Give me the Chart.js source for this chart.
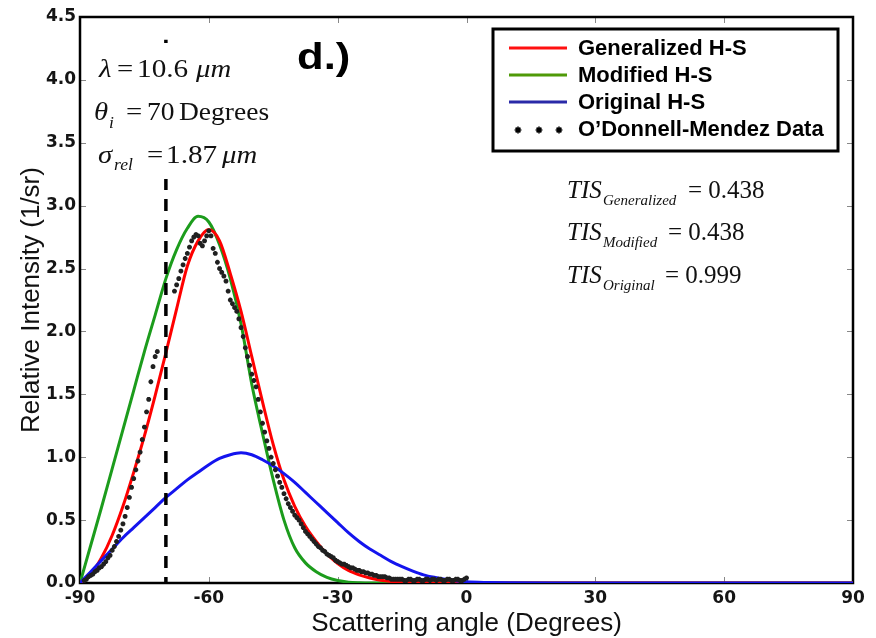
<!DOCTYPE html>
<html>
<head>
<meta charset="utf-8">
<script src="https://cdn.jsdelivr.net/npm/chart.js@4.4.1/dist/chart.umd.min.js"></script>
<style>
  html, body { margin: 0; padding: 0; background: #fff; }
</style>
</head>
<body>
<canvas id="chart" width="876" height="638"></canvas>
<script>
'use strict';

var curveAngle = [-90, -87.5, -85, -82.5, -80, -77.5, -75, -72.5, -70, -67.5, -65, -62.5, -60, -57.5,
  -55, -52.5, -50, -47.5, -45, -42.5, -40, -37.5, -35, -32.5, -30, -27.5, -25, -22.5, -20, -17.5,
  -15, -12.5, -10, -7.5, -5, -2.5, 0, 5, 10, 20, 30, 40, 50, 60, 70, 80, 90];

var generalizedHS = [0, 0.07, 0.20, 0.38, 0.61, 0.88, 1.17, 1.49, 1.83, 2.18, 2.52, 2.72, 2.81, 2.72,
  2.46, 2.16, 1.80, 1.44, 1.10, 0.82, 0.61, 0.45, 0.33, 0.23, 0.155, 0.10, 0.065, 0.04, 0.022, 0.012,
  0.006, 0.003, 0.001, 0, 0, 0, 0, 0, 0, 0, 0, 0, 0, 0, 0, 0, 0];

var modifiedHS = [0, 0.30, 0.60, 0.91, 1.22, 1.53, 1.84, 2.13, 2.42, 2.65, 2.82, 2.915, 2.87, 2.69,
  2.42, 2.06, 1.58, 1.19, 0.82, 0.50, 0.28, 0.16, 0.09, 0.045, 0.02, 0.007, 0.002, 0, 0, 0,
  0, 0, 0, 0, 0, 0, 0, 0, 0, 0, 0, 0, 0, 0, 0, 0, 0];

var originalHS = [0, 0.09, 0.18, 0.27, 0.36, 0.44, 0.52, 0.60, 0.68, 0.75, 0.82, 0.88, 0.94, 0.99,
  1.02, 1.035, 1.02, 0.98, 0.93, 0.87, 0.80, 0.72, 0.64, 0.56, 0.48, 0.40, 0.33, 0.27, 0.22, 0.17,
  0.13, 0.095, 0.065, 0.045, 0.03, 0.018, 0.01, 0.004, 0.001, 0, 0, 0, 0, 0, 0, 0, 0];

// O'Donnell-Mendez measured data
var odAngle = [-89, -88.5, -88, -87.5, -87, -86.5, -86, -85.5, -85, -84.5, -84, -83.5, -83, -82.5,
  -82, -81.5, -81, -80.5, -80, -79.5, -79, -78.5, -78, -77.5, -77, -76.5, -76, -75.5, -75, -74.5,
  -74, -73.5, -73, -72.5, -72, -68, -67.5, -67, -66.5, -66, -65.5, -65, -64.5, -64, -63.5, -63,
  -62.5, -62, -61.5, -61, -60.5, -60, -59.5, -59, -58.5, -58, -57.5, -57, -56.5, -56, -55.5, -55,
  -54.5, -54, -53.5, -53, -52.5, -52, -51.5, -51, -50.5, -50, -49.5, -49, -48.5, -48, -47.5, -47,
  -46.5, -46, -45.5, -45, -44.5, -44, -43.5, -43, -42.5, -42, -41.5, -41, -40.5, -40, -39.5, -39,
  -38.5, -38, -37.5, -37, -36.5, -36, -35.5, -35, -34.5, -34, -33.5, -33, -32.5, -32, -31.5, -31,
  -30.5, -30, -29.5, -29, -28.5, -28, -27.5, -27, -26.5, -26, -25.5, -25, -24.5, -24, -23.5, -23,
  -22.5, -22, -21.5, -21, -20.5, -20, -19.5, -19, -18.5, -18, -17.5, -17, -16.5, -16, -15.5, -15,
  -14.5, -14, -13.5, -13, -12.5, -12, -11.5, -11, -10.5, -10, -9.5, -9, -8.5, -8, -7.5, -7,
  -6.5, -6, -5.5, -5, -4.5, -4, -3.5, -3, -2.5, -2, -1.5, -1, -0.5, 0];

var odIntensity = [0.02, 0.03, 0.05, 0.06, 0.07, 0.09, 0.10, 0.12, 0.13, 0.15, 0.17, 0.20, 0.22, 0.26,
  0.29, 0.33, 0.37, 0.42, 0.47, 0.53, 0.60, 0.68, 0.76, 0.83, 0.90, 0.97, 1.04, 1.14, 1.24, 1.36,
  1.46, 1.60, 1.72, 1.80, 1.84, 2.32, 2.37, 2.42, 2.48, 2.53, 2.58, 2.62, 2.67, 2.72, 2.75, 2.77,
  2.76, 2.70, 2.68, 2.72, 2.76, 2.80, 2.76, 2.66, 2.62, 2.55, 2.50, 2.47, 2.44, 2.40, 2.32, 2.25,
  2.22, 2.19, 2.16, 2.10, 2.03, 1.96, 1.87, 1.80, 1.73, 1.66, 1.61, 1.56, 1.46, 1.36, 1.27, 1.20,
  1.13, 1.07, 1.00, 0.95, 0.90, 0.85, 0.80, 0.76, 0.71, 0.67, 0.63, 0.60, 0.57, 0.54, 0.52, 0.50,
  0.47, 0.44, 0.41, 0.39, 0.37, 0.35, 0.33, 0.31, 0.29, 0.28, 0.26, 0.25, 0.23, 0.22, 0.21, 0.20,
  0.18, 0.17, 0.16, 0.15, 0.15, 0.14, 0.13, 0.12, 0.12, 0.11, 0.10, 0.10, 0.09, 0.09, 0.08, 0.08,
  0.07, 0.07, 0.06, 0.06, 0.05, 0.05, 0.05, 0.05, 0.04, 0.04, 0.03, 0.03, 0.03, 0.03, 0.03, 0.03,
  0.02, 0.02, 0.03, 0.03, 0.02, 0.02, 0.03, 0.03, 0.02, 0.02, 0.03, 0.03, 0.02, 0.03, 0.03, 0.02,
  0.03, 0.03, 0.02, 0.02, 0.03, 0.03, 0.02, 0.02, 0.03, 0.03, 0.02, 0.02, 0.03, 0.04];

// Incidence angle marker (dashed line)
var incidentAngle = -70;
var markerTop = 4.32;

var xTicks = [-90, -60, -30, 0, 30, 60, 90];
var yTicks = [0, 0.5, 1, 1.5, 2, 2.5, 3, 3.5, 4, 4.5];

var SANS = "'Liberation Sans', Arial, sans-serif";
var SERIF = "'Liberation Serif', 'Times New Roman', serif";

function points(xs, ys) {
  return xs.map(function(x, i) { return { x: x, y: ys[i] }; });
}

// Draw text runs, each at its own x, optionally stretched horizontally
function drawRuns(ctx, runs) {
  runs.forEach(function(r) {
    ctx.save();
    ctx.font = r.font;
    ctx.translate(r.x, r.y);
    ctx.scale(r.sx || 1, 1);
    ctx.fillText(r.text, 0, 0);
    ctx.restore();
  });
}

/**
 * Frame with inward ticks on all four sides.
 */
var framePlugin = {
  id: 'frame',
  beforeDraw: function(chart) {
    var ctx = chart.ctx;
    ctx.save();
    ctx.fillStyle = '#fff';
    ctx.fillRect(0, 0, chart.width, chart.height);
    ctx.restore();
  },
  beforeDatasetsDraw: function(chart) {
    var ctx = chart.ctx, a = chart.chartArea;
    var xs = chart.scales.x, ys = chart.scales.y;
    ctx.save();
    ctx.strokeStyle = '#888';
    ctx.lineWidth = 1;
    ctx.beginPath();
    xTicks.forEach(function(v) {
      var px = Math.round(xs.getPixelForValue(v)) + 0.5;
      ctx.moveTo(px, a.bottom); ctx.lineTo(px, a.bottom - 6);
      ctx.moveTo(px, a.top); ctx.lineTo(px, a.top + 6);
    });
    yTicks.forEach(function(v) {
      var py = Math.round(ys.getPixelForValue(v)) + 0.5;
      ctx.moveTo(a.left, py); ctx.lineTo(a.left + 6, py);
      ctx.moveTo(a.right, py); ctx.lineTo(a.right - 6, py);
    });
    ctx.stroke();
    ctx.strokeStyle = '#000';
    ctx.lineWidth = 2.5;
    ctx.strokeRect(a.left, a.top, a.right - a.left, a.bottom - a.top);
    ctx.restore();
  }
};

/**
 * Annotations: parameters block, panel label, TIS values and the boxed legend.
 */
var annotationPlugin = {
  id: 'annotations',
  afterDatasetsDraw: function(chart) {
    var ctx = chart.ctx;
    ctx.save();

    // white block behind parameter text (hides dashed line)
    ctx.fillStyle = '#fff';
    ctx.fillRect(92, 49, 186, 130);

    ctx.fillStyle = '#111';
    ctx.textBaseline = 'alphabetic';
    var it = 'italic 25px ' + SERIF, rm = '25px ' + SERIF, sub = 'italic 16px ' + SERIF;
    drawRuns(ctx, [
      { text: 'λ', font: it, x: 99, y: 77, sx: 1.15 },
      { text: '=', font: rm, x: 117, y: 77, sx: 1.15 },
      { text: '10.6', font: rm, x: 137, y: 77, sx: 1.17 },
      { text: 'μm', font: it, x: 196, y: 77, sx: 1.15 },

      { text: 'θ', font: it, x: 94, y: 120, sx: 1.15 },
      { text: 'i', font: sub, x: 109, y: 128, sx: 1.1 },
      { text: '=', font: rm, x: 126, y: 120, sx: 1.15 },
      { text: '70', font: rm, x: 147, y: 120, sx: 1.1 },
      { text: 'Degrees', font: rm, x: 179, y: 120, sx: 1.1 },

      { text: 'σ', font: it, x: 98, y: 163, sx: 1.15 },
      { text: 'rel', font: sub, x: 114, y: 170, sx: 1.1 },
      { text: '=', font: rm, x: 147, y: 163, sx: 1.15 },
      { text: '1.87', font: rm, x: 166, y: 163, sx: 1.17 },
      { text: 'μm', font: it, x: 222, y: 163, sx: 1.15 }
    ]);

    // panel label
    ctx.fillStyle = '#000';
    drawRuns(ctx, [{ text: 'd.)', font: 'bold 37px ' + SANS, x: 297, y: 69, sx: 1.18 }]);

    // total integrated scatter
    var tIt = 'italic 25px ' + SERIF, tRm = '25px ' + SERIF, tSub = 'italic 15px ' + SERIF;
    ctx.fillStyle = '#111';
    drawRuns(ctx, [
      { text: 'TIS', font: tIt, x: 567, y: 198 },
      { text: 'Generalized', font: tSub, x: 603, y: 205 },
      { text: '= 0.438', font: tRm, x: 688, y: 198 },
      { text: 'TIS', font: tIt, x: 567, y: 240 },
      { text: 'Modified', font: tSub, x: 603, y: 247 },
      { text: '= 0.438', font: tRm, x: 668, y: 240 },
      { text: 'TIS', font: tIt, x: 567, y: 283 },
      { text: 'Original', font: tSub, x: 603, y: 290 },
      { text: '= 0.999', font: tRm, x: 665, y: 283 }
    ]);

    // legend box
    ctx.fillStyle = '#fff';
    ctx.fillRect(493, 29, 345, 122);
    ctx.strokeStyle = '#000';
    ctx.lineWidth = 3;
    ctx.strokeRect(493, 29, 345, 122);

    var legendRows = [
      { label: 'Generalized H-S', color: '#ff1010', y: 48 },
      { label: 'Modified H-S', color: '#4f9a08', y: 75 },
      { label: 'Original H-S', color: '#2a2aa8', y: 102 },
      { label: 'O’Donnell-Mendez Data', color: null, y: 129 }
    ];
    ctx.font = 'bold 22px ' + SANS;
    ctx.textBaseline = 'middle';
    legendRows.forEach(function(row) {
      if (row.color) {
        ctx.strokeStyle = row.color;
        ctx.lineWidth = 2.8;
        ctx.beginPath();
        ctx.moveTo(509, row.y);
        ctx.lineTo(567, row.y);
        ctx.stroke();
      } else {
        [518, 539, 559].forEach(function(px) {
          ctx.strokeStyle = '#000';
          ctx.lineWidth = 1.6;
          Chart.helpers.drawPoint(ctx, { pointStyle: 'star', radius: 3.4, borderWidth: 1.6 }, px, row.y + 1);
        });
      }
      ctx.fillStyle = '#000';
      ctx.fillText(row.label, 578, row.y + 1);
    });

    ctx.restore();
  }
};

var curveLine = function(label, values, color, order) {
  return {
    label: label,
    data: points(curveAngle, values),
    showLine: true,
    borderColor: color,
    backgroundColor: color,
    borderWidth: 3,
    pointRadius: 0,
    cubicInterpolationMode: 'monotone',
    order: order
  };
};

new Chart(document.getElementById('chart').getContext('2d'), {
  type: 'scatter',
  data: {
    datasets: [
      {
        label: 'Incidence',
        data: [{ x: incidentAngle, y: 0 }, { x: incidentAngle, y: markerTop }],
        showLine: true,
        borderColor: '#000',
        borderWidth: 3.5,
        borderDash: [12, 9],
        borderDashOffset: 6,
        pointRadius: 0,
        order: 0
      },
      {
        label: 'O’Donnell-Mendez Data',
        data: points(odAngle, odIntensity),
        pointStyle: 'star',
        pointRadius: 2.4,
        borderColor: '#202020',
        backgroundColor: '#202020',
        pointBorderWidth: 1.7,
        order: 1
      },
      curveLine('Original H-S', originalHS, '#1414ee', 2),
      curveLine('Generalized H-S', generalizedHS, '#ff0000', 3),
      curveLine('Modified H-S', modifiedHS, '#1c9c1c', 4)
    ]
  },
  options: {
    responsive: false,
    animation: false,
    layout: { padding: { left: 0, right: 23, top: 17, bottom: 0 } },
    plugins: {
      legend: { display: false },
      tooltip: { enabled: false }
    },
    scales: {
      x: {
        type: 'linear',
        min: -90,
        max: 90,
        afterBuildTicks: function(scale) {
          scale.ticks = xTicks.map(function(v) { return { value: v }; });
        },
        ticks: {
          autoSkip: false,
          maxRotation: 0,
          padding: 5,
          color: '#151515',
          font: { family: "'DejaVu Sans'", size: 17, weight: 'bold' }
        },
        grid: { display: false, drawTicks: false },
        border: { display: false },
        title: {
          display: true,
          text: 'Scattering angle (Degrees)',
          color: '#111',
          font: { family: SANS, size: 26, lineHeight: 1 },
          padding: { top: 0, bottom: 1 }
        },
        afterFit: function(scale) { scale.height = 55; }
      },
      y: {
        type: 'linear',
        min: 0,
        max: 4.5,
        afterBuildTicks: function(scale) {
          scale.ticks = yTicks.map(function(v) { return { value: v }; });
        },
        ticks: {
          autoSkip: false,
          padding: 4,
          color: '#151515',
          font: { family: "'DejaVu Sans'", size: 17, weight: 'bold' },
          callback: function(v) { return v.toFixed(1); }
        },
        grid: { display: false, drawTicks: false },
        border: { display: false },
        title: {
          display: true,
          text: 'Relative Intensity (1/sr)',
          color: '#111',
          font: { family: SANS, size: 26, lineHeight: 1 },
          padding: { top: 19, bottom: 0 }
        },
        afterFit: function(scale) { scale.width = 80; }
      }
    }
  },
  plugins: [framePlugin, annotationPlugin]
});
</script>
</body>
</html>
